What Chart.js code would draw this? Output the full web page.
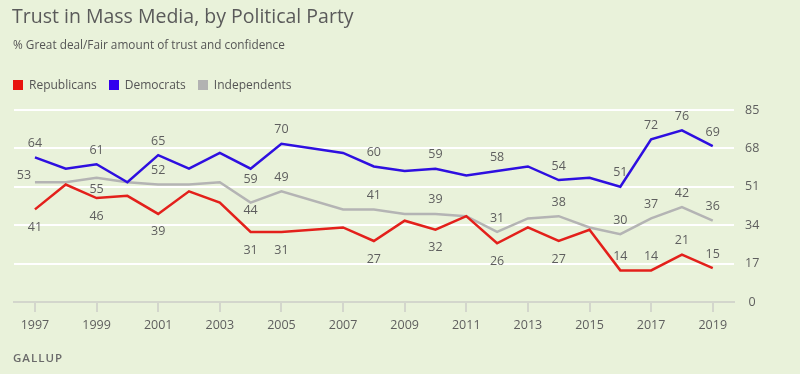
<!DOCTYPE html>
<html>
<head>
<meta charset="utf-8">
<script src="https://cdn.jsdelivr.net/npm/chart.js@4.4.1/dist/chart.umd.min.js"></script>
<style>
  html, body { margin: 0; padding: 0; background: #e9f2da; }
  #wrap { position: relative; width: 800px; height: 374px; background: #e9f2da; font-family: "Open Sans", "Lato", sans-serif; color: #5b5b5b; overflow: hidden; }
  #chart { position: absolute; left: 0; top: 0; }
  .title { position: absolute; left: 12px; top: 2px; font-size: 19.5px; color: #5a5a5a; white-space: nowrap; }
  .subtitle { position: absolute; left: 13px; top: 36px; font-size: 11.8px; color: #555; white-space: nowrap; }
  .legend { position: absolute; left: 13px; top: 76px; font-size: 12px; color: #555; white-space: nowrap; display: flex; }
  .legend span { display: inline-flex; align-items: center; margin-right: 12px; }
  .legend i { display: inline-block; width: 10px; height: 10px; margin-right: 6px; }
  .footer { position: absolute; left: 13px; top: 350px; font-size: 11.5px; letter-spacing: 1px; color: #6a6a6a; font-weight: 600; }
</style>
</head>
<body>
<div id="wrap">
  <canvas id="chart" width="800" height="374"></canvas>
  <div class="title">Trust in Mass Media, by Political Party</div>
  <div class="subtitle">% Great deal/Fair amount of trust and confidence</div>
  <div class="legend">
    <span><i style="background:#e8140f"></i>Republicans</span>
    <span><i style="background:#3300ee"></i>Democrats</span>
    <span><i style="background:#b2b2b2"></i>Independents</span>
  </div>
  <div class="footer">GALLUP</div>
</div>
<script>
const years = [1997, 1998, 1999, 2000, 2001, 2002, 2003, 2004, 2005, 2007, 2008, 2009, 2010, 2011, 2012, 2013, 2014, 2015, 2016, 2017, 2018, 2019];
const republicans = [41, 52, 46, 47, 39, 49, 44, 31, 31, 33, 27, 36, 32, 38, 26, 33, 27, 32, 14, 14, 21, 15];
const democrats = [64, 59, 61, 53, 65, 59, 66, 59, 70, 66, 60, 58, 59, 56, 58, 60, 54, 55, 51, 72, 76, 69];
const independents = [53, 53, 55, 53, 52, 52, 53, 44, 49, 41, 41, 39, 39, 38, 31, 37, 38, 33, 30, 37, 42, 36];
const labeledYears = [1997, 1999, 2001, 2004, 2005, 2008, 2010, 2012, 2014, 2016, 2017, 2018, 2019];
const xTickYears = [1997, 1999, 2001, 2003, 2005, 2007, 2009, 2011, 2013, 2015, 2017, 2019];
const yTicks = [0, 17, 34, 51, 68, 85];

const toPoints = (vals) => years.map((y, i) => ({ x: y, y: vals[i] }));

// where the value label sits: default side, plus a few hand-nudged ones
const ABOVE = -14, BELOW = 18;
const labelPlace = {
  Democrats: { side: ABOVE, nudge: { 2004: [0, 11] } },
  Independents: { side: ABOVE, nudge: { 1997: [-11, -7], 1999: [0, 12], 2004: [0, 8] } },
  Republicans: { side: BELOW, nudge: { 2016: [0, ABOVE], 2017: [0, ABOVE], 2018: [0, ABOVE], 2019: [0, ABOVE] } }
};

const valueLabels = {
  id: 'valueLabels',
  afterDatasetsDraw(chart) {
    const ctx = chart.ctx;
    ctx.save();
    ctx.font = '12.5px "Open Sans", sans-serif';
    ctx.fillStyle = '#5e5e5e';
    ctx.textAlign = 'center';
    ctx.textBaseline = 'middle';
    chart.data.datasets.forEach((ds, di) => {
      const meta = chart.getDatasetMeta(di);
      const place = labelPlace[ds.label];
      ds.data.forEach((p, i) => {
        if (!labeledYears.includes(p.x)) return;
        const el = meta.data[i];
        const n = place.nudge[p.x];
        const dx = n ? n[0] : 0;
        const dy = n ? n[1] : place.side;
        ctx.fillText(String(p.y), el.x + dx, el.y + dy);
      });
    });
    ctx.restore();
  }
};

new Chart(document.getElementById('chart'), {
  type: 'line',
  data: {
    datasets: [
      { label: 'Democrats', data: toPoints(democrats), borderColor: '#2e0fe0', borderWidth: 2.5, pointRadius: 0, tension: 0 },
      { label: 'Republicans', data: toPoints(republicans), borderColor: '#e3201b', borderWidth: 2.5, pointRadius: 0, tension: 0 },
      { label: 'Independents', data: toPoints(independents), borderColor: '#b4b4b4', borderWidth: 2.5, pointRadius: 0, tension: 0 }
    ]
  },
  options: {
    responsive: false,
    animation: false,
    layout: { padding: { top: 110, left: 14, right: 0, bottom: 42 } },
    plugins: {
      legend: { display: false },
      tooltip: { enabled: false }
    },
    scales: {
      x: {
        type: 'linear',
        min: 1996.32,
        max: 2019.69,
        afterBuildTicks: (scale) => { scale.ticks = xTickYears.map(v => ({ value: v })); },
        afterFit: (scale) => { scale.height = 30; },
        grid: { drawOnChartArea: false, drawTicks: true, tickLength: 10, color: '#d3d6cc', lineWidth: 2 },
        border: { display: true, color: '#d3d6cc', width: 2 },
        ticks: {
          padding: 6,
          maxRotation: 0,
          color: '#5e5e5e',
          font: { family: '"Open Sans", sans-serif', size: 12.5 },
          callback: (v) => String(v)
        }
      },
      y: {
        position: 'right',
        min: 0,
        max: 85,
        afterBuildTicks: (scale) => { scale.ticks = yTicks.map(v => ({ value: v })); },
        afterFit: (scale) => { scale.width = 66; },
        grid: {
          drawTicks: false,
          lineWidth: 2,
          color: (c) => c.tick && c.tick.value === 0 ? 'rgba(0,0,0,0)' : '#ffffff'
        },
        border: { display: false },
        ticks: {
          padding: 11,
          crossAlign: 'center',
          color: '#5e5e5e',
          font: { family: '"Open Sans", sans-serif', size: 12.5 }
        }
      }
    }
  },
  plugins: [valueLabels]
});
</script>
</body>
</html>
